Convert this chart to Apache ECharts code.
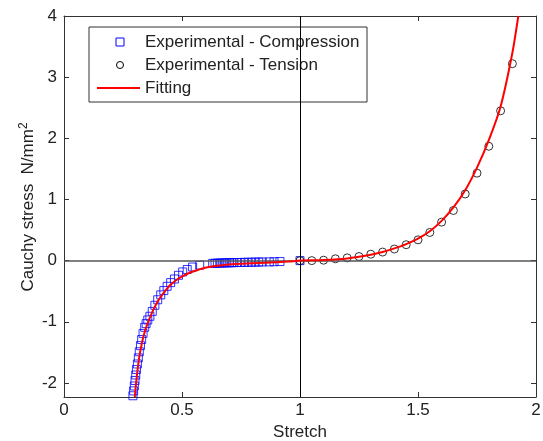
<!DOCTYPE html>
<html>
<head>
<meta charset="utf-8">
<script src="https://cdn.jsdelivr.net/npm/echarts@6/dist/echarts.min.js"></script>
<style>
  html, body { margin: 0; padding: 0; background: #fff; }
  #chart { width: 543px; height: 441px; }
</style>
</head>
<body>
<div id="chart"></div>
<script>
// compression test points (stretch, stress)
const compX = [0.292, 0.295, 0.298, 0.301, 0.304, 0.307, 0.311, 0.315, 0.319, 0.324, 0.329, 0.335, 0.342,
  0.348, 0.355, 0.364, 0.374, 0.385, 0.397, 0.410, 0.423, 0.437, 0.452, 0.468, 0.485, 0.503, 0.522, 0.545,
  0.575, 0.630, 0.640, 0.650, 0.660, 0.670, 0.680, 0.690, 0.700, 0.710, 0.720, 0.735, 0.750, 0.765, 0.780,
  0.795, 0.810, 0.825, 0.840, 0.870, 0.890, 0.915, 1.000];
const compY = [-2.21, -2.13, -2.05, -1.96, -1.87, -1.78, -1.69, -1.59, -1.49, -1.39, -1.29, -1.19, -1.09,
  -1.03, -0.97, -0.91, -0.83, -0.73, -0.64, -0.56, -0.49, -0.42, -0.36, -0.30, -0.24, -0.185, -0.145, -0.105,
  -0.075, -0.045, -0.043, -0.042, -0.040, -0.039, -0.038, -0.036, -0.035, -0.034, -0.033, -0.031, -0.030,
  -0.028, -0.027, -0.026, -0.024, -0.023, -0.022, -0.020, -0.018, -0.015, 0.0];

// tension test points
const tensX = [1.00, 1.05, 1.10, 1.15, 1.20, 1.25, 1.30, 1.35, 1.40, 1.45, 1.50, 1.55, 1.60, 1.65, 1.70,
  1.75, 1.80, 1.85, 1.90];
const tensY = [0.0, 0.0, 0.007, 0.03, 0.045, 0.067, 0.105, 0.14, 0.19, 0.26, 0.34, 0.46, 0.63, 0.82, 1.09,
  1.43, 1.87, 2.45, 3.22];

// fitted curve
const fitX = [0.300, 0.305, 0.312, 0.320, 0.330, 0.340, 0.350, 0.362, 0.378, 0.395, 0.410, 0.430, 0.450,
  0.475, 0.505, 0.535, 0.575, 0.620, 0.680, 0.750, 0.850, 0.950, 1.000, 1.100, 1.200, 1.300, 1.350, 1.400,
  1.450, 1.500, 1.550, 1.600, 1.650, 1.700, 1.750, 1.800, 1.850, 1.900, 1.925];
const fitY = [-2.23, -2.02, -1.78, -1.55, -1.35, -1.19, -1.07, -0.95, -0.81, -0.68, -0.59, -0.49, -0.40,
  -0.32, -0.25, -0.195, -0.14, -0.10, -0.072, -0.053, -0.035, -0.015, 0.0, 0.01, 0.035, 0.095, 0.14, 0.20,
  0.27, 0.36, 0.48, 0.65, 0.87, 1.15, 1.52, 1.97, 2.52, 3.40, 4.0];

const xTicks = [0, 0.5, 1, 1.5, 2];
const yTicks = [-2, -1, 0, 1, 2, 3, 4];

const zip = (xs, ys) => xs.map((x, i) => [x, ys[i]]);

const FONT = 'Liberation Sans, Arial, sans-serif';
const FS = 17;
const frame = { show: true, lineStyle: { color: '#333', width: 1 } };
const tick = { show: true, inside: true, length: 5, lineStyle: { color: '#333' } };

const chart = echarts.init(document.getElementById('chart'));
chart.setOption({
  animation: false,
  backgroundColor: '#fff',
  grid: { left: 64, right: 7, top: 16, bottom: 44, outerBoundsMode: 'none', containLabel: false },
  xAxis: [
    {
      type: 'value', min: 0, max: 2, interval: 0.5, position: 'bottom',
      axisLine: { ...frame, onZero: false }, axisTick: tick, splitLine: { show: false },
      axisLabel: { color: '#222', fontSize: FS, fontFamily: FONT, margin: 5,
        formatter: v => xTicks.includes(v) ? String(v) : '' },
      name: 'Stretch', nameLocation: 'middle', nameGap: 26,
      nameTextStyle: { color: '#222', fontSize: FS, fontFamily: FONT }
    },
    {
      type: 'value', min: 0, max: 2, interval: 0.5, position: 'top',
      axisLine: { ...frame, onZero: false }, axisTick: tick, axisLabel: { show: false },
      splitLine: { show: false }
    }
  ],
  yAxis: [
    {
      type: 'value', min: -2.23, max: 4, position: 'left',
      axisLine: { ...frame, onZero: false },
      axisTick: { ...tick, customValues: yTicks }, splitLine: { show: false },
      axisLabel: { color: '#222', fontSize: FS, fontFamily: FONT, margin: 7, customValues: yTicks }
    },
    {
      type: 'value', min: -2.23, max: 4, position: 'right',
      axisLine: { ...frame, onZero: false },
      axisTick: { ...tick, customValues: yTicks }, axisLabel: { show: false },
      splitLine: { show: false }
    }
  ],
  series: [
    {
      // reference cross lines at stretch = 1 and stress = 0
      type: 'line', data: [], z: 1, silent: true,
      markLine: {
        silent: true, symbol: 'none', label: { show: false },
        data: [
          { xAxis: 1, lineStyle: { color: '#000', width: 1, type: 'solid' } },
          { yAxis: 0, lineStyle: { color: '#555', width: 1.5, type: 'solid' } }
        ]
      }
    },
    {
      name: 'Experimental - Compression', type: 'scatter', z: 3,
      symbol: 'rect', symbolSize: 8,
      itemStyle: { color: 'rgba(0,0,0,0)', borderColor: '#0000ff', borderWidth: 1 },
      data: zip(compX, compY)
    },
    {
      name: 'Experimental - Tension', type: 'scatter', z: 4,
      symbol: 'circle', symbolSize: 8,
      itemStyle: { color: 'rgba(0,0,0,0)', borderColor: '#000', borderWidth: 1 },
      data: zip(tensX, tensY)
    },
    {
      name: 'Fitting', type: 'line', z: 5,
      showSymbol: false, smooth: 0.25,
      lineStyle: { color: '#ff0000', width: 2 },
      data: zip(fitX, fitY)
    }
  ],
  graphic: [
    {
      type: 'text', x: 28, y: 207, rotation: Math.PI / 2,
      style: {
        text: 'Cauchy stress  N/mm{sup|2}', fill: '#222', font: FS + 'px ' + FONT,
        align: 'center', verticalAlign: 'middle',
        rich: { sup: { fontSize: 12, fontFamily: FONT, fill: '#222', verticalAlign: 'top', padding: [0, 0, 8, 0] } }
      }
    },
    {
      type: 'group', x: 89, y: 27,
      children: [
        { type: 'rect', shape: { x: 0, y: 0, width: 278, height: 75 },
          style: { fill: '#fff', stroke: '#333', lineWidth: 1 } },
        { type: 'rect', shape: { x: 27, y: 11, width: 8, height: 8 },
          style: { fill: 'none', stroke: '#0000ff', lineWidth: 1 } },
        { type: 'text', x: 56, y: 15,
          style: { text: 'Experimental - Compression', fill: '#222', font: FS + 'px ' + FONT, verticalAlign: 'middle' } },
        { type: 'circle', shape: { cx: 31, cy: 38, r: 3.5 },
          style: { fill: 'none', stroke: '#000', lineWidth: 1 } },
        { type: 'text', x: 56, y: 38,
          style: { text: 'Experimental - Tension', fill: '#222', font: FS + 'px ' + FONT, verticalAlign: 'middle' } },
        { type: 'line', shape: { x1: 8, y1: 61, x2: 51, y2: 61 },
          style: { stroke: '#ff0000', lineWidth: 2 } },
        { type: 'text', x: 56, y: 61,
          style: { text: 'Fitting', fill: '#222', font: FS + 'px ' + FONT, verticalAlign: 'middle' } }
      ]
    }
  ]
});
</script>
</body>
</html>
